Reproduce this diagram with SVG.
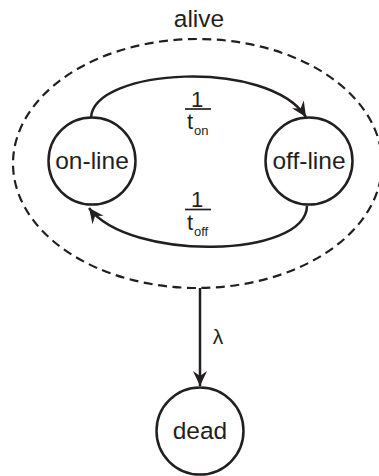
<svg xmlns="http://www.w3.org/2000/svg" width="379" height="476" viewBox="0 0 379 476">
<style>
.node{fill:#fff;stroke:#231f20;stroke-width:2.5}
.lbl{font-family:"Liberation Sans",Arial,sans-serif;font-size:24.5px;fill:#231f20;text-anchor:middle}
.edge{fill:none;stroke:#231f20;stroke-width:2.5}
.frac{font-family:"Liberation Sans",Arial,sans-serif;fill:#231f20}
.bar{stroke:#231f20;stroke-width:1.7}
</style>
<defs>
<marker id="arr" markerUnits="userSpaceOnUse" viewBox="-16 -8 17 16" refX="0" refY="0" markerWidth="17" markerHeight="16" orient="auto">
<path d="M0,0 L-15,-7 L-10,0 L-15,7 Z" fill="#231f20"/>
</marker>
</defs>
<g id="alive">
<ellipse cx="197.5" cy="163.5" rx="184.5" ry="124.5" fill="none" stroke="#231f20" stroke-width="2.2" stroke-dasharray="9 5.5"/>
<text class="lbl" x="199" y="27">alive</text>
</g>
<g id="connectors">
<path class="edge" d="M91,118 C93,68 268,58 306,117" marker-end="url(#arr)"/>
<path class="edge" d="M307,206 C306,258 130,262 89,208" marker-end="url(#arr)"/>
<path class="edge" d="M200,288 L200,386" marker-end="url(#arr)"/>
<g id="lbl-on">
<text class="frac" x="197" y="106.5" font-size="22" text-anchor="middle">1</text>
<line class="bar" x1="185" y1="109" x2="211" y2="109"/>
<text class="frac" x="187" y="129" font-size="22">t</text>
<text class="frac" x="194" y="135" font-size="13">on</text>
</g>
<g id="lbl-off">
<text class="frac" x="197" y="206.5" font-size="22" text-anchor="middle">1</text>
<line class="bar" x1="185" y1="209.5" x2="211" y2="209.5"/>
<text class="frac" x="187" y="229.5" font-size="22">t</text>
<text class="frac" x="194" y="235.5" font-size="13">off</text>
</g>
<text class="frac" x="218" y="344" font-size="21" text-anchor="middle">λ</text>
</g>
<g id="online">
<circle class="node" cx="92" cy="161" r="43.5"/>
<text class="lbl" x="92" y="169">on-line</text>
</g>
<g id="offline">
<circle class="node" cx="309" cy="161" r="43.5"/>
<text class="lbl" x="309" y="169">off-line</text>
</g>
<g id="dead">
<circle class="node" cx="200" cy="431" r="43.5"/>
<text class="lbl" x="200" y="439">dead</text>
</g>
</svg>
